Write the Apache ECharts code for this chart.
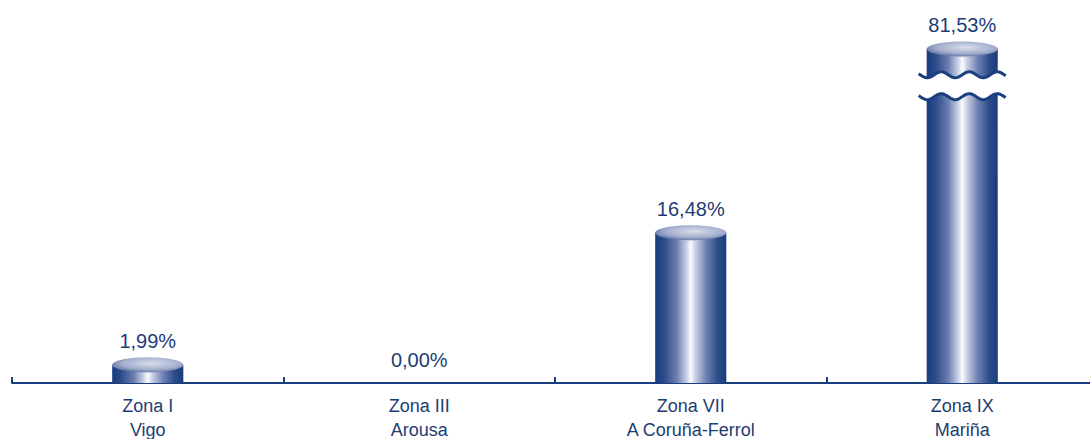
<!DOCTYPE html>
<html>
<head>
<meta charset="utf-8">
<script src="https://cdn.jsdelivr.net/npm/echarts@6/dist/echarts.min.js"></script>
<style>
html,body{margin:0;padding:0;background:#fff;}
#chart{width:1090px;height:439px;}
</style>
</head>
<body>
<div id="chart"></div>
<script>
// ---- data ----
const zoneNames = ['Zona I', 'Zona III', 'Zona VII', 'Zona IX'];
const zonePlaces = ['Vigo', 'Arousa', 'A Coruña-Ferrol', 'Mariña'];
const shares = [1.99, 0.00, 16.48, 81.53];
// broken value axis: values between these are cut out
const axisBreak = [31.4, 78.7];
const axisBreakGap = 2.4;

// ---- style ----
const NAVY = '#1a3e7e';
const TEXT = '#1e3c74';
const BAR_RATIO = 0.262;
const RY = 7.5;

function toDisplay(v) {
  if (v <= axisBreak[0]) return v;
  if (v >= axisBreak[1]) return axisBreak[0] + axisBreakGap + (v - axisBreak[1]);
  return axisBreak[0] + axisBreakGap;
}

const bodyFill = new echarts.graphic.LinearGradient(0, 0, 1, 0, [
  {offset: 0, color: '#193c7c'},
  {offset: 0.12, color: '#2b4a8a'},
  {offset: 0.3, color: '#697daf'},
  {offset: 0.44, color: '#c9d0e5'},
  {offset: 0.5, color: '#fbfcfe'},
  {offset: 0.57, color: '#c6cde3'},
  {offset: 0.72, color: '#6d80b0'},
  {offset: 0.88, color: '#2d4b8a'},
  {offset: 1, color: '#193c7c'}
]);
const capFill = new echarts.graphic.RadialGradient(0.55, 0.4, 0.75, [
  {offset: 0, color: '#d9deeb'},
  {offset: 0.55, color: '#a3aecd'},
  {offset: 0.85, color: '#5a6ea2'},
  {offset: 1, color: '#23427f'}
]);

function ellipsePts(cx, cy, rx, ry) {
  const pts = [];
  for (let k = 0; k < 72; k++) {
    const a = k / 72 * Math.PI * 2;
    pts.push([cx + rx * Math.cos(a), cy + ry * Math.sin(a)]);
  }
  return pts;
}
function wavePts(x0, x1, cx, yc) {
  const pts = [];
  const P = 28, A = 3;
  for (let x = x0; x <= x1 + 0.01; x += 1) {
    pts.push([x, yc - A * Math.sin(2 * Math.PI * (x - cx) / P)]);
  }
  return pts;
}

const seriesData = shares.map((v, i) => [i, v]);

const option = {
  animation: false,
  grid: {left: 12, width: 1086, top: 0, height: 383, outerBoundsMode: 'none', containLabel: false},
  xAxis: {
    type: 'category',
    data: zoneNames.map((n, i) => n + '\n' + zonePlaces[i]),
    axisLine: {show: true, lineStyle: {color: NAVY, width: 2}},
    axisTick: {show: true, inside: true, length: 6, lineStyle: {color: NAVY, width: 2}},
    axisLabel: {
      color: TEXT, fontFamily: '"Liberation Sans Narrow", "Arial Narrow", "Liberation Sans", sans-serif',
      fontSize: 18, lineHeight: 24, margin: 11, interval: 0
    },
    splitLine: {show: false}
  },
  yAxis: {type: 'value', min: 0, max: 42, show: false, splitLine: {show: false}},
  series: [{
    type: 'custom',
    data: seriesData,
    clip: false,
    renderItem: function (params, api) {
      const i = api.value(0), v = api.value(1);
      const base = api.coord([i, 0]);
      const top = api.coord([i, toDisplay(v)]);
      const w = api.size([1, 0])[0] * BAR_RATIO;
      const cx = base[0], L = cx - w / 2, R = cx + w / 2;
      const children = [];
      if (v > axisBreak[0]) {
        const yLow = api.coord([i, axisBreak[0]])[1];
        const yHigh = api.coord([i, axisBreak[0] + axisBreakGap])[1];
        const lowWave = wavePts(L, R, cx, yLow);
        children.push({type: 'polygon', shape: {points: lowWave.concat([[R, base[1]], [L, base[1]]])}, style: {fill: bodyFill}});
        const highWave = wavePts(L, R, cx, yHigh).reverse();
        children.push({type: 'polygon', shape: {points: [[L, top[1]], [R, top[1]]].concat(highWave)}, style: {fill: bodyFill}});
        children.push({type: 'polyline', shape: {points: wavePts(L - 8, R + 8, cx, yLow)}, style: {stroke: NAVY, lineWidth: 3, fill: null}});
        children.push({type: 'polyline', shape: {points: wavePts(L - 8, R + 8, cx, yHigh)}, style: {stroke: NAVY, lineWidth: 3, fill: null}});
      } else if (v > 0) {
        children.push({type: 'rect', shape: {x: L, y: top[1], width: w, height: base[1] - top[1]}, style: {fill: bodyFill}});
      }
      if (v > 0) {
        children.push({type: 'polygon', shape: {points: ellipsePts(cx, top[1], w / 2, RY)}, style: {fill: capFill}});
      }
      children.push({
        type: 'text',
        style: {
          x: cx, y: top[1] - RY - 6,
          text: v.toFixed(2).replace('.', ',') + '%',
          fill: TEXT, fontSize: 20,
          fontFamily: '"Liberation Sans", Arial, sans-serif',
          align: 'center', verticalAlign: 'bottom'
        }
      });
      return {type: 'group', children: children};
    }
  }]
};

const chart = echarts.init(document.getElementById('chart'), null, {renderer: 'svg'});
chart.setOption(option);
</script>
</body>
</html>
